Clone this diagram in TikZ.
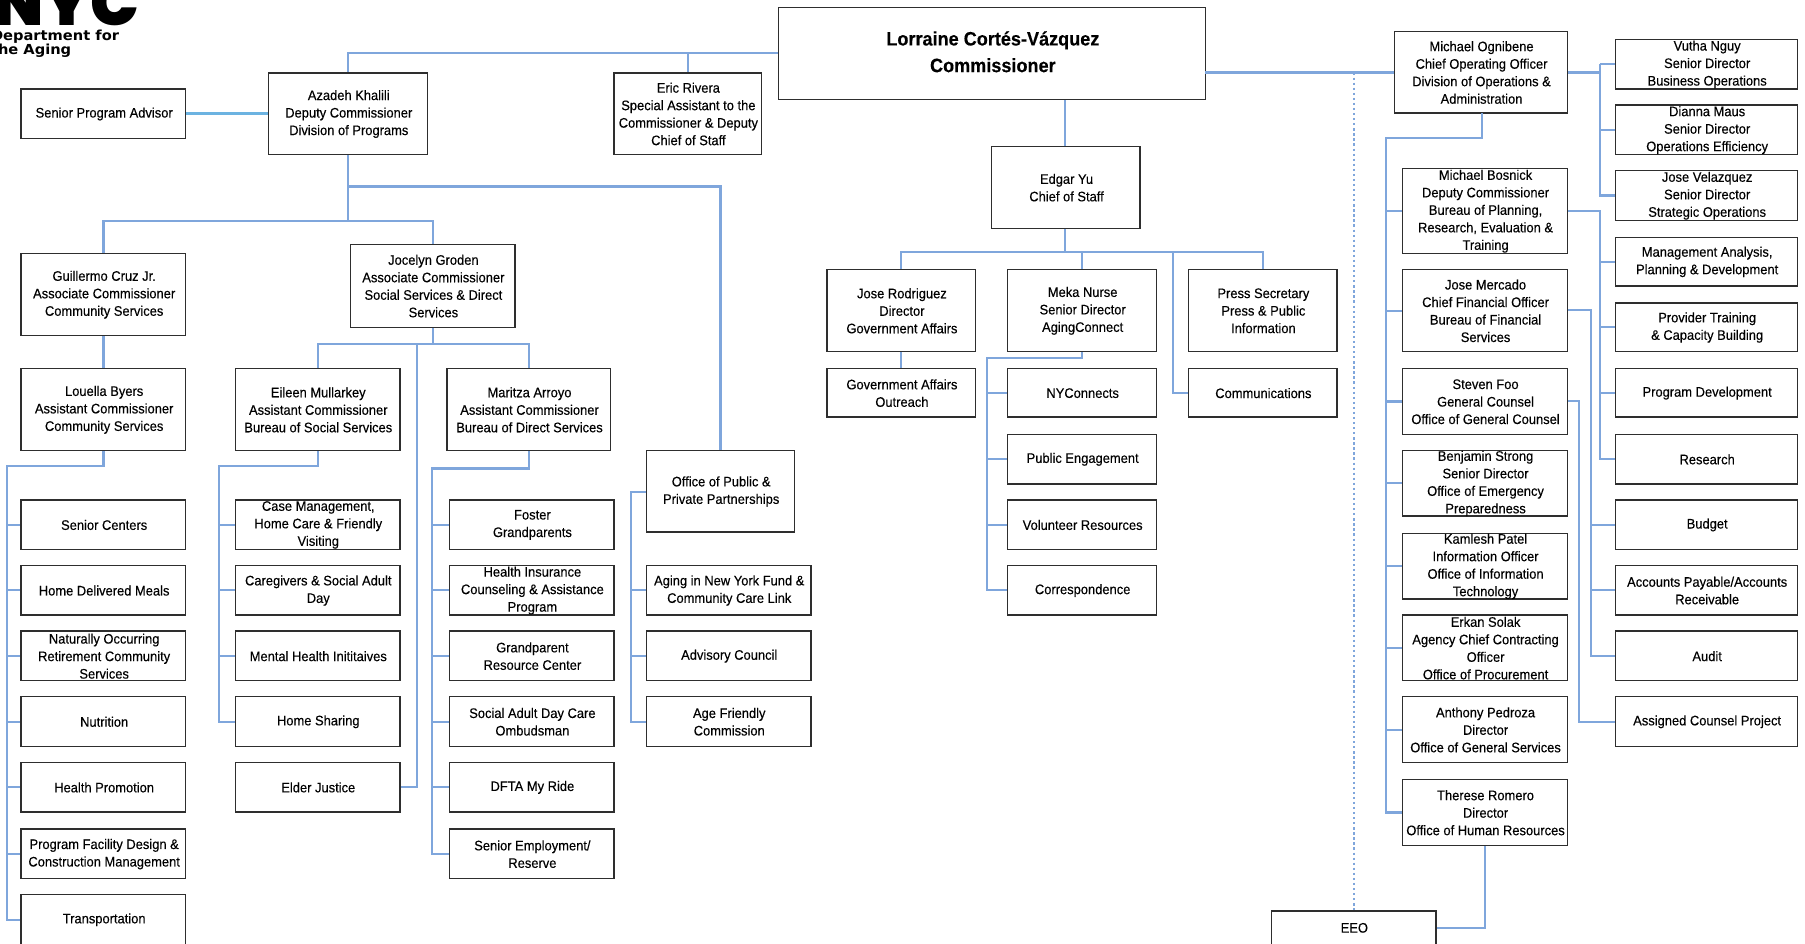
\documentclass[tikz,border=0pt]{standalone}
\usepackage{fontspec}
\setmainfont[FakeStretch=0.935,FakeBold=0.25]{Liberation Sans}
\newfontfamily\logofont{Poppins Black}
\newfontfamily\logotextfont{DejaVu Sans Bold}
\usetikzlibrary{calc}
\definecolor{linkc}{HTML}{7FA6DC}
\definecolor{boxc}{HTML}{2E2E2E}
\tikzset{
  orgbox/.style={draw=boxc,line width=1.2pt,fill=white,inner sep=0pt},
  orgtext/.style={align=center,inner sep=0pt,font=\fontsize{12}{15.2}\selectfont},
  conn/.style={draw=linkc,line width=1.8pt,line join=miter},
  wideconn/.style={draw=linkc!85!cyan,line width=2.6pt},
  dotconn/.style={draw=linkc,line width=2pt,dash pattern=on 2pt off 2.4pt},
}
\newcommand{\bx}[6]{%
  \pgfmathsetmacro{\bw}{#4-#2}\pgfmathsetmacro{\bh}{#5-#3}%
  \node[orgbox,minimum width=\bw pt,minimum height=\bh pt] (#1) at ({(#2+#4)/2+0.4},{(#3+#5)/2+0.3}) {};
  \node[orgtext] (#1t) at ([shift={(0.6,0.2)}]#1.center) {#6};}
\begin{document}
\begin{tikzpicture}[x=1pt,y=-1pt]
\useasboundingbox (0,0) rectangle (1568,820);
\fill[white] (0,0) rectangle (1568,820);
% logo
\node[anchor=base east,inner sep=0pt,font=\logofont\fontsize{56}{56}\selectfont] (logonyc) at (121,22) {NYC};
\node[anchor=base west,inner sep=0pt,xscale=1.06,font=\logotextfont\fontsize{12}{12.5}\selectfont] (logotx1) at (-8,35) {Department for};
\node[anchor=base west,inner sep=0pt,xscale=1.06,font=\logotextfont\fontsize{12}{12.5}\selectfont] (logotx2) at (-8,47.5) {the Aging};
% coordinates of trunks
\coordinate (tA) at (6,405);
\coordinate (tB) at (190,405);
\coordinate (tC) at (375,407);
\coordinate (tD) at (548,427);
\coordinate (tE) at (857,311);
\coordinate (tF) at (1204,120);
\coordinate (tG) at (1390,63);
\coordinate (tH) at (1390,183);
\coordinate (tI) at (1382,269);
\coordinate (tJ) at (1372,348);
\coordinate (tK) at (362,299);
\coordinate (tL) at (1019,219);
\coordinate (cmL) at (676,46);
\coordinate (cmR) at (1047,63);
\coordinate (dpt) at (1176,63);
\coordinate (erx) at (598,46);
\coordinate (azx) at (302,134);
\coordinate (az1) at (302,162);
\coordinate (az2) at (302,192);
\coordinate (jox) at (376,299);
\coordinate (edx) at (925,219);
\coordinate (mkx) at (940,219);
\coordinate (mob) at (1287,98);
\coordinate (rom) at (1290,806);
% boxes
\bx{comm}{676}{6}{1047}{86}{\fontsize{16.8}{23}\selectfont\bfseries Lorraine Cortés-Vázquez\\[6.5pt]\fontsize{16.8}{23}\selectfont\bfseries Commissioner\\[-12pt]\mbox{}}
\bx{azadeh}{233}{63}{371}{134}{Azadeh Khalili\\Deputy Commissioner\\Division of Programs}
\bx{eric}{533}{63}{661}{134}{Eric Rivera\\Special Assistant to the\\Commissioner \& Deputy\\Chief of Staff}
\bx{spa}{18}{77}{161}{120}{Senior Program Advisor}
\bx{guil}{18}{220}{161}{291}{Guillermo Cruz Jr.\\Associate Commissioner\\Community Services}
\bx{joce}{304}{212}{447}{284}{Jocelyn Groden\\Associate Commissioner\\Social Services \& Direct\\Services}
\bx{loue}{18}{320}{161}{391}{Louella Byers\\Assistant Commissioner\\Community Services}
\bx{eile}{204}{320}{347}{391}{Eileen Mullarkey\\Assistant Commissioner\\Bureau of Social Services}
\bx{mari}{388}{320}{530}{391}{Maritza Arroyo\\Assistant Commissioner\\Bureau of Direct Services}
\bx{opub}{561}{391}{690}{462}{Office of Public \&\\Private Partnerships}
\bx{a1}{18}{434}{161}{477}{Senior Centers}
\bx{a2}{18}{491}{161}{534}{Home Delivered Meals}
\bx{a3}{18}{548}{161}{591}{Naturally Occurring\\Retirement Community\\Services}
\bx{a4}{18}{605}{161}{648}{Nutrition}
\bx{a5}{18}{662}{161}{705}{Health Promotion}
\bx{a6}{18}{720}{161}{763}{Program Facility Design \&\\Construction Management}
\bx{a7}{18}{777}{161}{820}{Transportation}
\bx{b1}{204}{434}{347}{477}{Case Management,\\Home Care \& Friendly\\Visiting}
\bx{b2}{204}{491}{347}{534}{Caregivers \& Social Adult\\Day}
\bx{b3}{204}{548}{347}{591}{Mental Health Inititaives}
\bx{b4}{204}{605}{347}{648}{Home Sharing}
\bx{b5}{204}{662}{347}{705}{Elder Justice}
\bx{c1}{390}{434}{533}{477}{Foster\\Grandparents}
\bx{c2}{390}{491}{533}{534}{Health Insurance\\Counseling \& Assistance\\Program}
\bx{c3}{390}{548}{533}{591}{Grandparent\\Resource Center}
\bx{c4}{390}{605}{533}{648}{Social Adult Day Care\\Ombudsman}
\bx{c5}{390}{662}{533}{705}{DFTA My Ride}
\bx{c6}{390}{720}{533}{763}{Senior Employment/\\Reserve}
\bx{d1}{561}{491}{704}{534}{Aging in New York Fund \&\\Community Care Link}
\bx{d2}{561}{548}{704}{591}{Advisory Council}
\bx{d3}{561}{605}{704}{648}{Age Friendly\\Commission}
\bx{edgar}{861}{127}{990}{198}{Edgar Yu\\Chief of Staff}
\bx{joser}{718}{234}{847}{305}{Jose Rodriguez\\Director\\Government Affairs}
\bx{meka}{875}{234}{1004}{305}{Meka Nurse\\Senior Director\\AgingConnect}
\bx{press}{1032}{234}{1161}{305}{Press Secretary\\Press \& Public\\Information}
\bx{gaout}{718}{320}{847}{362}{Government Affairs\\Outreach}
\bx{e1}{875}{320}{1004}{362}{NYConnects}
\bx{e2}{875}{377}{1004}{420}{Public Engagement}
\bx{e3}{875}{434}{1004}{477}{Volunteer Resources}
\bx{e4}{875}{491}{1004}{534}{Correspondence}
\bx{commu}{1032}{320}{1161}{362}{Communications}
\bx{mogn}{1211}{27}{1361}{98}{Michael Ognibene\\Chief Operating Officer\\Division of Operations \&\\Administration}
\bx{f1}{1218}{146}{1361}{220}{Michael Bosnick\\Deputy Commissioner\\Bureau of Planning,\\Research, Evaluation \&\\Training}
\bx{f2}{1218}{234}{1361}{305}{Jose Mercado\\Chief Financial Officer\\Bureau of Financial\\Services}
\bx{f3}{1218}{320}{1361}{377}{Steven Foo\\General Counsel\\Office of General Counsel}
\bx{f4}{1218}{391}{1361}{448}{Benjamin Strong\\Senior Director\\Office of Emergency\\Preparedness}
\bx{f5}{1218}{463}{1361}{520}{Kamlesh Patel\\Information Officer\\Office of Information\\Technology}
\bx{f6}{1218}{534}{1361}{591}{Erkan Solak\\Agency Chief Contracting\\Officer\\Office of Procurement}
\bx{f7}{1218}{605}{1361}{662}{Anthony Pedroza\\Director\\Office of General Services}
\bx{f8}{1218}{677}{1361}{734}{Therese Romero\\Director\\Office of Human Resources}
\bx{eeo}{1104}{791}{1247}{820}{EEO}
\bx{g1}{1403}{34}{1561}{77}{Vutha Nguy\\Senior Director\\Business Operations}
\bx{g2}{1403}{91}{1561}{134}{Dianna Maus\\Senior Director\\Operations Efficiency}
\bx{g3}{1403}{148}{1561}{191}{Jose Velazquez\\Senior Director\\Strategic Operations}
\bx{g4}{1403}{206}{1561}{248}{Management Analysis,\\Planning \& Development}
\bx{g5}{1403}{263}{1561}{305}{Provider Training\\\& Capacity Building}
\bx{g6}{1403}{320}{1561}{362}{Program Development}
\bx{g7}{1403}{377}{1561}{420}{Research}
\bx{g8}{1403}{434}{1561}{477}{Budget}
\bx{g9}{1403}{491}{1561}{534}{Accounts Payable/Accounts\\Receivable}
\bx{g10}{1403}{548}{1561}{591}{Audit}
\bx{g11}{1403}{605}{1561}{648}{Assigned Counsel Project}
% connectors
\draw[conn] (cmL) -| (azadeh.north -| azx);
\draw[conn] (erx) -- (eric.north -| erx);
\draw[wideconn] (spa.east) -- (azadeh.west |- spa.east);
\draw[conn] (azadeh.south -| azx) -- (az2);
\draw[conn] (az1) -| (opub.north);
\draw[conn] (guil.north) |- (az2) -| (joce.north);
\draw[conn] (guil.south) -- (loue.north);
\draw[conn] (loue.south) |- (tA) -- (tA |- a7.west) -- (a7.west);
\foreach \n in {a1,a2,a3,a4,a5,a6} \draw[conn] (tA |- \n.west) -- (\n.west);
\draw[conn] (joce.south -| jox) -- (jox);
\draw[conn] (eile.north) |- (jox) -| (mari.north);
\draw[conn] (tK) |- (b5.east);
\draw[conn] (eile.south) |- (tB) -- (tB |- b4.west) -- (b4.west);
\foreach \n in {b1,b2,b3} \draw[conn] (tB |- \n.west) -- (\n.west);
\draw[conn] (mari.south) |- (tC) -- (tC |- c6.west) -- (c6.west);
\foreach \n in {c1,c2,c3,c4,c5} \draw[conn] (tC |- \n.west) -- (\n.west);
\draw[conn] (opub.west |- tD) -- (tD) -- (tD |- d3.west) -- (d3.west);
\foreach \n in {d1,d2} \draw[conn] (tD |- \n.west) -- (\n.west);
\draw[conn] (comm.south -| edx) -- (edgar.north -| edx);
\draw[conn] (edgar.south -| edx) -- (edx);
\draw[conn] (joser.north) |- (edx) -| (press.north);
\draw[conn] (mkx) -- (meka.north -| mkx);
\draw[conn] (tL) |- (commu.west);
\draw[conn] (joser.south) -- (gaout.north);
\draw[conn] (meka.south -| mkx) |- (tE) -- (tE |- e4.west) -- (e4.west);
\foreach \n in {e1,e2,e3} \draw[conn] (tE |- \n.west) -- (\n.west);
\draw[conn] (cmR) -- (mogn.west |- cmR);
\draw[dotconn] (dpt) -- (eeo.north -| dpt);
\draw[conn] (mob) |- (tF) -- (tF |- f8.west) -- (f8.west);
\foreach \n in {f1,f2,f3,f4,f5,f6,f7} \draw[conn] (tF |- \n.west) -- (\n.west);
\draw[conn] (mogn.east |- tG) -- (tG);
\draw[conn] (tG |- g1.west) -- (g1.west);
\draw[conn] (tG |- g2.west) -- (g2.west);
\draw[conn] (tG |- g1.west) -- (tG |- g3.west) -- (g3.west);
\draw[conn] (f1.east |- tH) -- (tH) -- (tH |- g7.west) -- (g7.west);
\foreach \n in {g4,g5,g6} \draw[conn] (tH |- \n.west) -- (\n.west);
\draw[conn] (f2.east |- tI) -- (tI) -- (tI |- g10.west) -- (g10.west);
\foreach \n in {g8,g9} \draw[conn] (tI |- \n.west) -- (\n.west);
\draw[conn] (f3.east |- tJ) -- (tJ) -- (tJ |- g11.west) -- (g11.west);
\draw[conn] (f8.south -| rom) -- (rom) -- (eeo.east |- rom);
\end{tikzpicture}
\end{document}
